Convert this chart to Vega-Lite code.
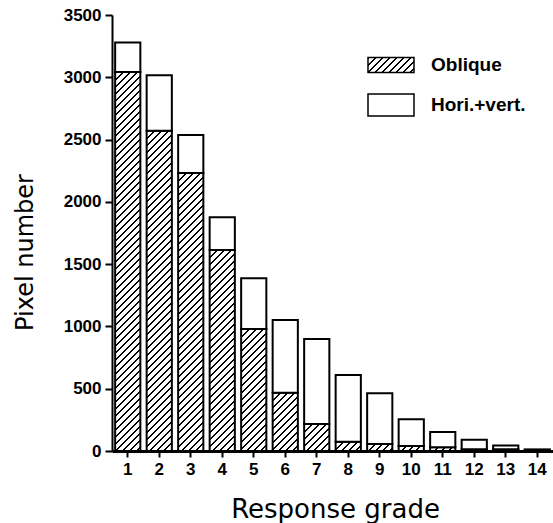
{
  "$schema": "https://vega.github.io/schema/vega-lite/v6.json",
  "width": 441,
  "height": 436,
  "autosize": {"type": "none"},
  "padding": {"left": 112, "top": 15, "right": 0, "bottom": 72},
  "background": "white",
  "params": [
    {"name": "hatchStops", "value": [
      {"offset":0,"color":"#000"},{"offset":0.00493,"color":"#000"},{"offset":0.00493,"color":"#fff"},{"offset":0.01724,"color":"#fff"},
      {"offset":0.01724,"color":"#000"},{"offset":0.02217,"color":"#000"},{"offset":0.02217,"color":"#fff"},{"offset":0.03448,"color":"#fff"},
      {"offset":0.03448,"color":"#000"},{"offset":0.03941,"color":"#000"},{"offset":0.03941,"color":"#fff"},{"offset":0.05172,"color":"#fff"},
      {"offset":0.05172,"color":"#000"},{"offset":0.05665,"color":"#000"},{"offset":0.05665,"color":"#fff"},{"offset":0.06897,"color":"#fff"},
      {"offset":0.06897,"color":"#000"},{"offset":0.0739,"color":"#000"},{"offset":0.0739,"color":"#fff"},{"offset":0.08621,"color":"#fff"},
      {"offset":0.08621,"color":"#000"},{"offset":0.09114,"color":"#000"},{"offset":0.09114,"color":"#fff"},{"offset":0.10345,"color":"#fff"},
      {"offset":0.10345,"color":"#000"},{"offset":0.10838,"color":"#000"},{"offset":0.10838,"color":"#fff"},{"offset":0.12069,"color":"#fff"},
      {"offset":0.12069,"color":"#000"},{"offset":0.12562,"color":"#000"},{"offset":0.12562,"color":"#fff"},{"offset":0.13793,"color":"#fff"},
      {"offset":0.13793,"color":"#000"},{"offset":0.14286,"color":"#000"},{"offset":0.14286,"color":"#fff"},{"offset":0.15517,"color":"#fff"},
      {"offset":0.15517,"color":"#000"},{"offset":0.1601,"color":"#000"},{"offset":0.1601,"color":"#fff"},{"offset":0.17241,"color":"#fff"},
      {"offset":0.17241,"color":"#000"},{"offset":0.17734,"color":"#000"},{"offset":0.17734,"color":"#fff"},{"offset":0.18966,"color":"#fff"},
      {"offset":0.18966,"color":"#000"},{"offset":0.19459,"color":"#000"},{"offset":0.19459,"color":"#fff"},{"offset":0.2069,"color":"#fff"},
      {"offset":0.2069,"color":"#000"},{"offset":0.21183,"color":"#000"},{"offset":0.21183,"color":"#fff"},{"offset":0.22414,"color":"#fff"},
      {"offset":0.22414,"color":"#000"},{"offset":0.22907,"color":"#000"},{"offset":0.22907,"color":"#fff"},{"offset":0.24138,"color":"#fff"},
      {"offset":0.24138,"color":"#000"},{"offset":0.24631,"color":"#000"},{"offset":0.24631,"color":"#fff"},{"offset":0.25862,"color":"#fff"},
      {"offset":0.25862,"color":"#000"},{"offset":0.26355,"color":"#000"},{"offset":0.26355,"color":"#fff"},{"offset":0.27586,"color":"#fff"},
      {"offset":0.27586,"color":"#000"},{"offset":0.28079,"color":"#000"},{"offset":0.28079,"color":"#fff"},{"offset":0.2931,"color":"#fff"},
      {"offset":0.2931,"color":"#000"},{"offset":0.29803,"color":"#000"},{"offset":0.29803,"color":"#fff"},{"offset":0.31034,"color":"#fff"},
      {"offset":0.31034,"color":"#000"},{"offset":0.31527,"color":"#000"},{"offset":0.31527,"color":"#fff"},{"offset":0.32759,"color":"#fff"},
      {"offset":0.32759,"color":"#000"},{"offset":0.33252,"color":"#000"},{"offset":0.33252,"color":"#fff"},{"offset":0.34483,"color":"#fff"},
      {"offset":0.34483,"color":"#000"},{"offset":0.34976,"color":"#000"},{"offset":0.34976,"color":"#fff"},{"offset":0.36207,"color":"#fff"},
      {"offset":0.36207,"color":"#000"},{"offset":0.367,"color":"#000"},{"offset":0.367,"color":"#fff"},{"offset":0.37931,"color":"#fff"},
      {"offset":0.37931,"color":"#000"},{"offset":0.38424,"color":"#000"},{"offset":0.38424,"color":"#fff"},{"offset":0.39655,"color":"#fff"},
      {"offset":0.39655,"color":"#000"},{"offset":0.40148,"color":"#000"},{"offset":0.40148,"color":"#fff"},{"offset":0.41379,"color":"#fff"},
      {"offset":0.41379,"color":"#000"},{"offset":0.41872,"color":"#000"},{"offset":0.41872,"color":"#fff"},{"offset":0.43103,"color":"#fff"},
      {"offset":0.43103,"color":"#000"},{"offset":0.43596,"color":"#000"},{"offset":0.43596,"color":"#fff"},{"offset":0.44828,"color":"#fff"},
      {"offset":0.44828,"color":"#000"},{"offset":0.45321,"color":"#000"},{"offset":0.45321,"color":"#fff"},{"offset":0.46552,"color":"#fff"},
      {"offset":0.46552,"color":"#000"},{"offset":0.47045,"color":"#000"},{"offset":0.47045,"color":"#fff"},{"offset":0.48276,"color":"#fff"},
      {"offset":0.48276,"color":"#000"},{"offset":0.48769,"color":"#000"},{"offset":0.48769,"color":"#fff"},{"offset":0.5,"color":"#fff"},
      {"offset":0.5,"color":"#000"},{"offset":0.50493,"color":"#000"},{"offset":0.50493,"color":"#fff"},{"offset":0.51724,"color":"#fff"},
      {"offset":0.51724,"color":"#000"},{"offset":0.52217,"color":"#000"},{"offset":0.52217,"color":"#fff"},{"offset":0.53448,"color":"#fff"},
      {"offset":0.53448,"color":"#000"},{"offset":0.53941,"color":"#000"},{"offset":0.53941,"color":"#fff"},{"offset":0.55172,"color":"#fff"},
      {"offset":0.55172,"color":"#000"},{"offset":0.55665,"color":"#000"},{"offset":0.55665,"color":"#fff"},{"offset":0.56897,"color":"#fff"},
      {"offset":0.56897,"color":"#000"},{"offset":0.5739,"color":"#000"},{"offset":0.5739,"color":"#fff"},{"offset":0.58621,"color":"#fff"},
      {"offset":0.58621,"color":"#000"},{"offset":0.59114,"color":"#000"},{"offset":0.59114,"color":"#fff"},{"offset":0.60345,"color":"#fff"},
      {"offset":0.60345,"color":"#000"},{"offset":0.60838,"color":"#000"},{"offset":0.60838,"color":"#fff"},{"offset":0.62069,"color":"#fff"},
      {"offset":0.62069,"color":"#000"},{"offset":0.62562,"color":"#000"},{"offset":0.62562,"color":"#fff"},{"offset":0.63793,"color":"#fff"},
      {"offset":0.63793,"color":"#000"},{"offset":0.64286,"color":"#000"},{"offset":0.64286,"color":"#fff"},{"offset":0.65517,"color":"#fff"},
      {"offset":0.65517,"color":"#000"},{"offset":0.6601,"color":"#000"},{"offset":0.6601,"color":"#fff"},{"offset":0.67241,"color":"#fff"},
      {"offset":0.67241,"color":"#000"},{"offset":0.67734,"color":"#000"},{"offset":0.67734,"color":"#fff"},{"offset":0.68966,"color":"#fff"},
      {"offset":0.68966,"color":"#000"},{"offset":0.69459,"color":"#000"},{"offset":0.69459,"color":"#fff"},{"offset":0.7069,"color":"#fff"},
      {"offset":0.7069,"color":"#000"},{"offset":0.71183,"color":"#000"},{"offset":0.71183,"color":"#fff"},{"offset":0.72414,"color":"#fff"},
      {"offset":0.72414,"color":"#000"},{"offset":0.72907,"color":"#000"},{"offset":0.72907,"color":"#fff"},{"offset":0.74138,"color":"#fff"},
      {"offset":0.74138,"color":"#000"},{"offset":0.74631,"color":"#000"},{"offset":0.74631,"color":"#fff"},{"offset":0.75862,"color":"#fff"},
      {"offset":0.75862,"color":"#000"},{"offset":0.76355,"color":"#000"},{"offset":0.76355,"color":"#fff"},{"offset":0.77586,"color":"#fff"},
      {"offset":0.77586,"color":"#000"},{"offset":0.78079,"color":"#000"},{"offset":0.78079,"color":"#fff"},{"offset":0.7931,"color":"#fff"},
      {"offset":0.7931,"color":"#000"},{"offset":0.79803,"color":"#000"},{"offset":0.79803,"color":"#fff"},{"offset":0.81034,"color":"#fff"},
      {"offset":0.81034,"color":"#000"},{"offset":0.81527,"color":"#000"},{"offset":0.81527,"color":"#fff"},{"offset":0.82759,"color":"#fff"},
      {"offset":0.82759,"color":"#000"},{"offset":0.83252,"color":"#000"},{"offset":0.83252,"color":"#fff"},{"offset":0.84483,"color":"#fff"},
      {"offset":0.84483,"color":"#000"},{"offset":0.84976,"color":"#000"},{"offset":0.84976,"color":"#fff"},{"offset":0.86207,"color":"#fff"},
      {"offset":0.86207,"color":"#000"},{"offset":0.867,"color":"#000"},{"offset":0.867,"color":"#fff"},{"offset":0.87931,"color":"#fff"},
      {"offset":0.87931,"color":"#000"},{"offset":0.88424,"color":"#000"},{"offset":0.88424,"color":"#fff"},{"offset":0.89655,"color":"#fff"},
      {"offset":0.89655,"color":"#000"},{"offset":0.90148,"color":"#000"},{"offset":0.90148,"color":"#fff"},{"offset":0.91379,"color":"#fff"},
      {"offset":0.91379,"color":"#000"},{"offset":0.91872,"color":"#000"},{"offset":0.91872,"color":"#fff"},{"offset":0.93103,"color":"#fff"},
      {"offset":0.93103,"color":"#000"},{"offset":0.93596,"color":"#000"},{"offset":0.93596,"color":"#fff"},{"offset":0.94828,"color":"#fff"},
      {"offset":0.94828,"color":"#000"},{"offset":0.95321,"color":"#000"},{"offset":0.95321,"color":"#fff"},{"offset":0.96552,"color":"#fff"},
      {"offset":0.96552,"color":"#000"},{"offset":0.97045,"color":"#000"},{"offset":0.97045,"color":"#fff"},{"offset":0.98276,"color":"#fff"},
      {"offset":0.98276,"color":"#000"},{"offset":0.98769,"color":"#000"},{"offset":0.98769,"color":"#fff"},{"offset":1,"color":"#fff"}
    ]}
  ],
  "data": {"values": [
    {"grade": 1, "type": "Oblique", "count": 3042},
    {"grade": 1, "type": "Hori.+vert.", "count": 238},
    {"grade": 2, "type": "Oblique", "count": 2571},
    {"grade": 2, "type": "Hori.+vert.", "count": 445},
    {"grade": 3, "type": "Oblique", "count": 2232},
    {"grade": 3, "type": "Hori.+vert.", "count": 305},
    {"grade": 4, "type": "Oblique", "count": 1614},
    {"grade": 4, "type": "Hori.+vert.", "count": 262},
    {"grade": 5, "type": "Oblique", "count": 979},
    {"grade": 5, "type": "Hori.+vert.", "count": 407},
    {"grade": 6, "type": "Oblique", "count": 468},
    {"grade": 6, "type": "Hori.+vert.", "count": 584},
    {"grade": 7, "type": "Oblique", "count": 217},
    {"grade": 7, "type": "Hori.+vert.", "count": 682},
    {"grade": 8, "type": "Oblique", "count": 75},
    {"grade": 8, "type": "Hori.+vert.", "count": 535},
    {"grade": 9, "type": "Oblique", "count": 56},
    {"grade": 9, "type": "Hori.+vert.", "count": 407},
    {"grade": 10, "type": "Oblique", "count": 40},
    {"grade": 10, "type": "Hori.+vert.", "count": 214},
    {"grade": 11, "type": "Oblique", "count": 30},
    {"grade": 11, "type": "Hori.+vert.", "count": 123},
    {"grade": 12, "type": "Oblique", "count": 15},
    {"grade": 12, "type": "Hori.+vert.", "count": 75},
    {"grade": 13, "type": "Oblique", "count": 15},
    {"grade": 13, "type": "Hori.+vert.", "count": 30},
    {"grade": 14, "type": "Oblique", "count": 5},
    {"grade": 14, "type": "Hori.+vert.", "count": 8}
  ]},
  "mark": {"type": "bar", "strokeWidth": 2},
  "encoding": {
    "x": {
      "field": "grade", "type": "ordinal",
      "scale": {"paddingInner": 0.2, "paddingOuter": 0.1},
      "axis": {
        "title": "Response grade", "labelAngle": 0,
        "titleFont": "DejaVu Sans", "titleFontSize": 26, "titleFontWeight": "normal", "titleColor": "black",
        "titleX": 223, "titleY": 66, "titleBaseline": "alphabetic",
        "labelFont": "Liberation Sans", "labelFontSize": 17, "labelFontWeight": "bold", "labelColor": "black",
        "labelPadding": 4, "tickSize": 6, "tickWidth": 2, "tickColor": "black",
        "domainColor": "black", "domainWidth": 3
      }
    },
    "y": {
      "field": "count", "type": "quantitative", "stack": "zero",
      "scale": {"domain": [0, 3500], "nice": false},
      "axis": {
        "title": "Pixel number", "values": [0, 500, 1000, 1500, 2000, 2500, 3000, 3500], "format": "d", "grid": false,
        "titleFont": "DejaVu Sans", "titleFontSize": 24, "titleFontWeight": "normal", "titleColor": "black",
        "titleX": -80, "titleY": 237, "titleBaseline": "alphabetic",
        "labelFont": "Liberation Sans", "labelFontSize": 17, "labelFontWeight": "bold", "labelColor": "black",
        "labelPadding": 4, "tickSize": 7, "tickWidth": 2, "tickColor": "black",
        "domainColor": "black", "domainWidth": 2
      }
    },
    "stroke": {
      "field": "type", "type": "nominal",
      "scale": {"domain": ["Oblique", "Hori.+vert."], "range": ["black", "black"]},
      "legend": {
        "orient": "none", "legendX": 255, "legendY": 38, "title": null, "padding": 0,
        "symbolType": {"expr": "datum.value === 'Oblique' ? 'M-1,-0.326H1V0.326H-1Z' : 'M-1,-0.478H1V0.478H-1Z'"},
        "symbolFillColor": {"expr": "datum.value === 'Oblique' ? {gradient: 'linear', x1: 0, y1: 0, x2: 7.978, y2: 2.601, stops: hatchStops} : 'white'"},
        "symbolSize": 2116, "symbolStrokeWidth": 1.5,
        "symbolStrokeColor": "black", "symbolOpacity": 1,
        "clipHeight": 24, "rowPadding": 16, "labelOffset": 16,
        "labelFont": "Liberation Sans", "labelFontSize": 19, "labelFontWeight": "bold", "labelColor": "black",
        "encode": {
          "symbols": {
            "fill": {"value": {"expr": "datum.value === 'Oblique' ? {gradient: 'linear', x1: 0, y1: 0, x2: 7.978, y2: 2.601, stops: hatchStops} : 'white'"}},
            "shape": {"value": {"expr": "datum.value === 'Oblique' ? 'M-1,-0.326H1V0.326H-1Z' : 'M-1,-0.478H1V0.478H-1Z'"}}
          }
        }
      }
    },
    "order": {"field": "type", "sort": "descending"},
    "fill": {"value": {"expr": "datum.type ? (datum.type === 'Oblique' ? {gradient: 'linear', x1: 0, y1: 0, x2: bandwidth('x') * 406 / (bandwidth('x') * bandwidth('x') + pow(scale('y', datum.count_start) - scale('y', datum.count_end), 2)), y2: abs(scale('y', datum.count_start) - scale('y', datum.count_end)) * 406 / (bandwidth('x') * bandwidth('x') + pow(scale('y', datum.count_start) - scale('y', datum.count_end), 2)), stops: hatchStops} : 'white') : (datum.value === 'Oblique' ? {gradient: 'linear', x1: 0, y1: 0, x2: 7.978, y2: 2.601, stops: hatchStops} : 'white')"}}
  },
  "config": {"view": {"stroke": null}}
}
